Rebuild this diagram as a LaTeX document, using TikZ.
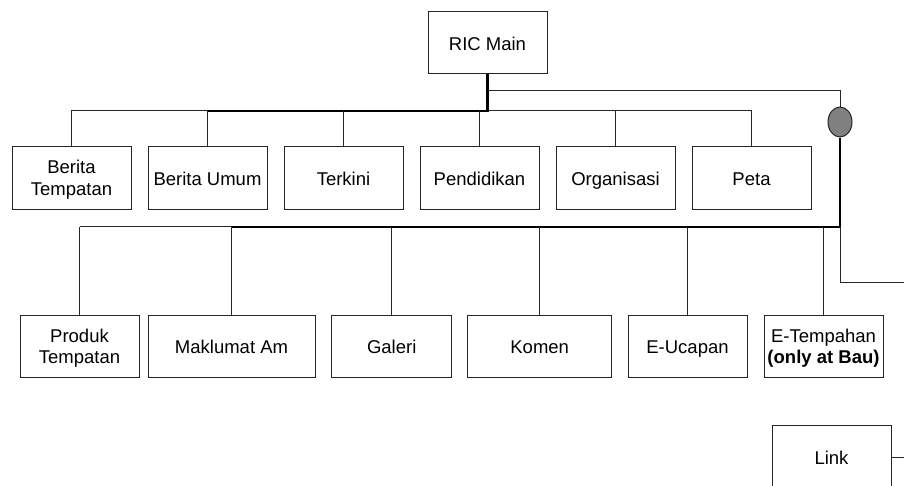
\documentclass[tikz,border=0pt]{standalone}
\usepackage{fontspec}
\setmainfont{Liberation Sans}
\usetikzlibrary{shapes.geometric}
\begin{document}
\begin{tikzpicture}[x=1pt,y=-1pt,
  box/.style={draw=black!85, line width=1pt, fill=white, minimum height=62.6pt,
    minimum width=119pt, inner sep=0pt, align=center,
    font=\fontsize{18.5}{21.5}\selectfont},
  boxone/.style={box, text height=15pt, text depth=0pt},
  boxtwo/.style={box, text depth=-3pt},
  lnthin/.style={draw=black!85, line width=1pt},
  lnthick/.style={draw=black, line width=2.2pt},
  knob/.style={ellipse, draw=black!85, line width=1pt, fill=black!50,
    minimum width=24pt, minimum height=30pt, inner sep=0pt}]
\clip (0,0) rectangle (904,485);
\fill[white] (0,0) rectangle (904,485);

% nodes
\node[boxone] (main) at (487.5,42.5) {RIC Main};

\node[boxtwo] (bt) at (71.5,178) {Berita\\Tempatan};
\node[boxone] (bu) at (207.5,178) {Berita Umum};
\node[boxone] (tk) at (343.5,178) {Terkini};
\node[boxone] (pd) at (479.5,178) {Pendidikan};
\node[boxone] (og) at (615.5,178) {Organisasi};
\node[boxone] (pt) at (751.5,178) {Peta};

\node[boxtwo] (pr) at (79.5,346.3) {Produk\\Tempatan};
\node[boxone, minimum width=167pt] (ma) at (231.5,346.3) {Maklumat Am};
\node[boxone, minimum width=120pt] (ga) at (391.7,346.3) {Galeri};
\node[boxone, minimum width=143.6pt] (ko) at (539.7,346.3) {Komen};
\node[boxone] (eu) at (687.5,346.3) {E-Ucapan};
\node[boxtwo] (et) at (823.5,346.3) {E-Tempahan\\\textbf{(only at Bau)}};

\node[boxone] (ln) at (831.5,457) {Link};

\node[knob] (kb) at (840,122) {};

% junction coordinates
\coordinate (bar1) at (487.5,110.7);
\coordinate (tap) at (487.5,90.7);
\coordinate (tapr) at (840,90.7);
\coordinate (bar2) at (840,226.7);
\coordinate (bend) at (840,282.7);
\coordinate (out1) at (904,282.7);
\coordinate (out2) at (904,457.7);

% trunk and first row
\draw[lnthin] (bt.north) -- (bt.north |- bar1) -- (bu.north |- bar1);
\draw[lnthin] (main.south |- bar1) -- (pt.north |- bar1);
\draw[lnthick] (main.south) -- (bar1) -- (bu.north |- bar1);
\foreach \n in {bu,tk,pd,og,pt}{
  \draw[lnthin] (\n.north) -- (\n.north |- bar1);
}

% branch to knob
\draw[lnthin] (tap) -- (tapr) -- (kb.north);

% second row
\draw[lnthick] (kb.south) -- (bar2) -- (ma.north |- bar2);
\draw[lnthin] (ma.north |- bar2) -- (pr.north |- bar2);
\foreach \n in {pr,ma,ga,ko,eu,et}{
  \draw[lnthin] (\n.north) -- (\n.north |- bar2);
}

% links to the right
\draw[lnthin] (bar2) -- (bend) -- (out1);
\draw[lnthin] (ln.east |- out2) -- (out2);
\end{tikzpicture}
\end{document}
